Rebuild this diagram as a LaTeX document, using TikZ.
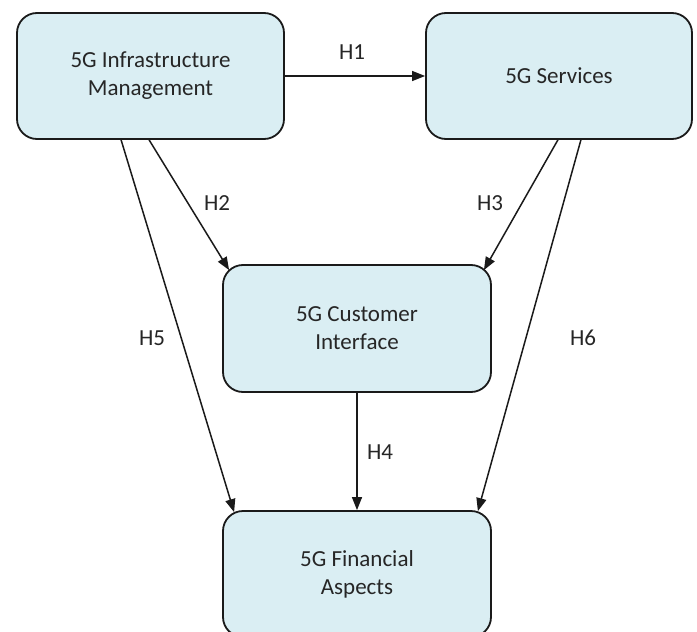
\documentclass[tikz,border=0pt]{standalone}
\usepackage{fontspec}
\setmainfont{Carlito}
\usetikzlibrary{arrows.meta}
\definecolor{boxfill}{HTML}{DAEEF3}
\definecolor{txt}{HTML}{262626}
\definecolor{edge}{HTML}{1A1A1A}
\begin{document}
\begin{tikzpicture}[x=1pt,y=1pt,
  box/.style={draw=edge, line width=1.8pt, fill=boxfill, rounded corners=20pt,
    minimum width=#1, align=center, text=txt, inner sep=0pt,
    font=\fontsize{23}{28}\selectfont},
  box/.default=267pt,
  arr/.style={draw=edge, line width=1.5pt, -{Triangle[length=13pt,width=10pt]}},
  lab/.style={text=txt, font=\fontsize{23}{28}\selectfont, inner sep=0pt}]
\path[use as bounding box, clip] (0,0) rectangle (697,-632);
\node[box=267pt, minimum height=126pt] (b1) at (150.5,-76) {5G Infrastructure\\Management};
\node[box=266pt, minimum height=126pt] (b2) at (559,-76) {5G Services};
\node[box=268pt, minimum height=127pt] (b3) at (357,-328.5) {5G Customer\\Interface};
\node[box=268pt, minimum height=126pt] (b4) at (357,-574) {5G Financial\\Aspects};
\draw[arr] (b1.east) -- (b2.west);
\draw[arr] ([xshift=133pt]b1.south west) -- ([shift={(7pt,-6pt)}]b3.north west);
\draw[arr] ([xshift=105pt]b1.south west) -- ([shift={(12pt,-2pt)}]b4.north west);
\draw[arr] ([xshift=-135pt]b2.south east) -- ([shift={(-8pt,-6pt)}]b3.north east);
\draw[arr] ([xshift=-112pt]b2.south east) -- ([shift={(-14pt,-1pt)}]b4.north east);
\draw[arr] (b3.south) -- (b4.north);
\node[lab] (h1) at (352,-52) {H1};
\node[lab] (h2) at (217,-203) {H2};
\node[lab] (h3) at (490,-203) {H3};
\node[lab] (h4) at (380,-452) {H4};
\node[lab] (h5) at (152,-338) {H5};
\node[lab] (h6) at (583,-338) {H6};
\end{tikzpicture}
\end{document}
